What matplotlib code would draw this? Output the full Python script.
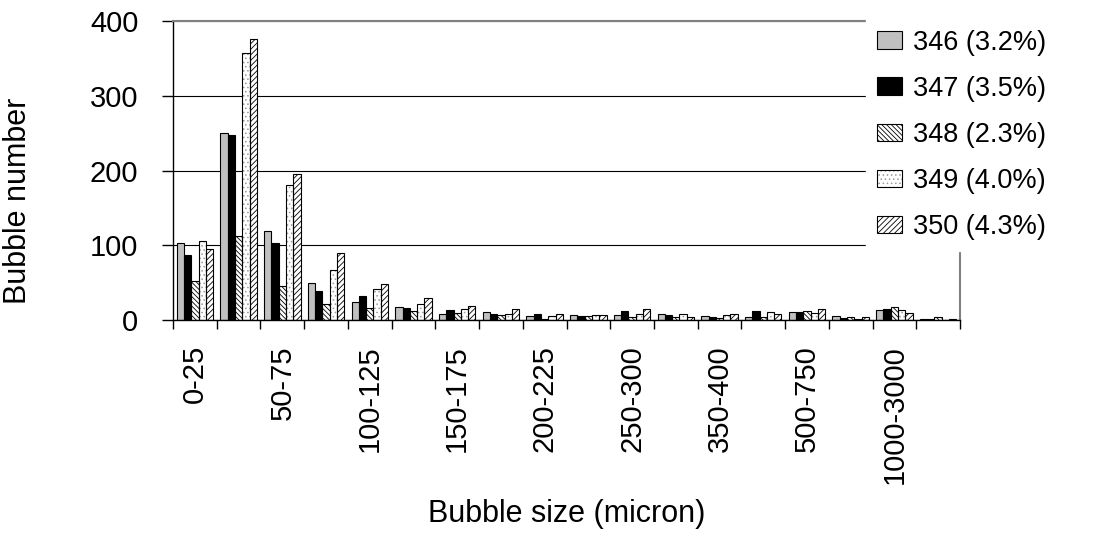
import numpy as np
import matplotlib
matplotlib.use("Agg")
import matplotlib.pyplot as plt

plt.rcParams['font.family'] = ['Liberation Sans', 'DejaVu Sans']
plt.rcParams['hatch.linewidth'] = 0.6

# bubble size classes (micron)
categories = ["0-25", "25-50", "50-75", "75-100", "100-125", "125-150",
              "150-175", "175-200", "200-225", "225-250", "250-300", "300-350",
              "350-400", "400-500", "500-750", "750-1000", "1000-3000", ">3000"]

# bubble counts per sample
s346 = [103, 250, 119, 49, 24, 17, 8, 11, 5, 7, 7, 8.5, 6, 4.5, 11, 6, 14, 1.5]
s347 = [87, 247, 103, 39, 32, 16, 13, 8.5, 8.5, 6, 12.5, 7, 4.5, 12.5, 11, 3, 15, 1.5]
s348 = [52, 113, 46, 21, 16, 12, 10, 7, 2, 6, 4, 4.5, 3, 4.5, 12.5, 4.5, 18, 4.5]
s349 = [106, 357, 180, 67, 41, 21, 15, 8.5, 6, 7, 8.5, 8.5, 7, 11, 10, 2, 14, 0.5]
s350 = [95, 376, 195, 89, 48, 29, 19, 15, 8.5, 7, 15, 4.5, 8.5, 8.5, 15, 4.5, 10, 2]

series = [s346, s347, s348, s349, s350]
legend_labels = ["346 (3.2%)", "347 (3.5%)", "348 (2.3%)", "349 (4.0%)", "350 (4.3%)"]

# (fill, hatch, hatch colour)
styles = [
    ('#c0c0c0', None, 'black'),
    ('black', None, 'black'),
    ('white', '\\\\\\\\\\\\\\', 'black'),
    ('white', '....', '#9a9a9a'),
    ('white', '//////', 'black'),
]

fig = plt.figure(figsize=(11, 5.46), dpi=100)
ax = fig.add_axes([173 / 1100, 1 - 320 / 546, 787 / 1100, 299 / 546])

x = np.arange(len(categories))
w = 1 / 6
handles = []
for i, (vals, st) in enumerate(zip(series, styles)):
    face, hatch, hc = st
    pos = x + (i - 2) * w
    b1 = ax.bar(pos, vals, w, color=face, edgecolor=hc, hatch=hatch,
                linewidth=0, zorder=2)
    b2 = ax.bar(pos, vals, w, fill=False, edgecolor='black', linewidth=0.8,
                zorder=3)
    handles.append((b1.patches[0], b2.patches[0]))

ax.set_xlim(-0.5, len(categories) - 0.5)
ax.set_ylim(0, 400)
ax.set_yticks([0, 100, 200, 300, 400])
ax.yaxis.grid(True, color='black', linewidth=0.8)
ax.set_axisbelow(True)

# labels only on every other class
ax.set_xticks(x)
ax.set_xticklabels([c if i % 2 == 0 else '' for i, c in enumerate(categories)],
                   rotation=90, fontsize=21)
ax.tick_params(axis='x', which='major', length=0, pad=18)
ax.set_xticks(np.arange(-0.5, len(categories), 1), minor=True)
ax.tick_params(axis='x', which='minor', length=6.5, width=1, direction='out')
ax.tick_params(axis='y', length=8, width=1, pad=17, labelsize=21)

for s in ['top', 'right']:
    ax.spines[s].set_color('#808080')
    ax.spines[s].set_linewidth(1.5)
for s in ['left', 'bottom']:
    ax.spines[s].set_color('black')
    ax.spines[s].set_linewidth(1)

ax.set_ylabel("Bubble number", fontsize=22)
ax.yaxis.set_label_coords(-0.178, 0.398)
ax.set_xlabel("Bubble size (micron)", fontsize=22)
ax.xaxis.set_label_coords(0.5, -0.6)

leg = ax.legend(handles, legend_labels, loc='upper left',
                bbox_to_anchor=(866 / 1100, 1 - 19 / 546),
                bbox_transform=fig.transFigure, frameon=True,
                facecolor='white', edgecolor='white', framealpha=1,
                fancybox=False, fontsize=19.5, handlelength=0.92,
                handleheight=0.63, handletextpad=0.4, labelspacing=0.74,
                borderpad=0.4, borderaxespad=0)

fig.savefig("out.png", dpi=100)
